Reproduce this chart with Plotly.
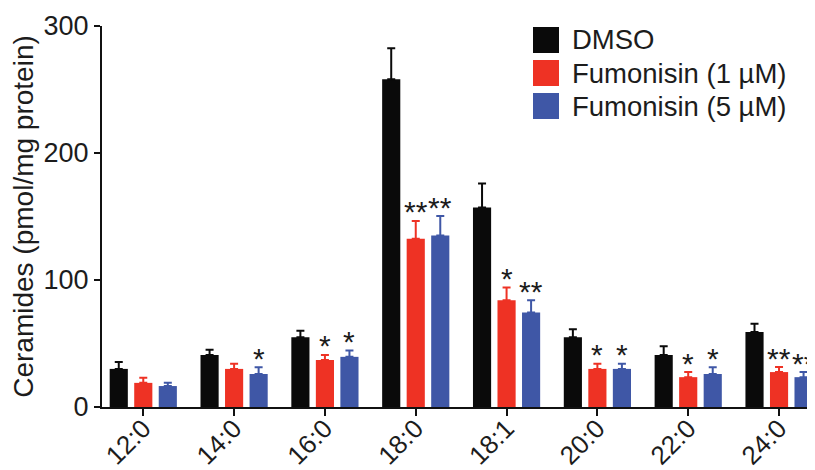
import plotly.graph_objects as go

categories = ["12:0", "14:0", "16:0", "18:0", "18:1", "20:0", "22:0", "24:0"]
series_names = ["DMSO", "Fumonisin (1 µM)", "Fumonisin (5 µM)"]
dmso = [30, 41, 55, 258, 157, 55, 41, 59]
dmso_err = [5.5, 4, 5, 24.5, 19, 6.3, 6.8, 6.5]
fum1 = [19, 30, 37, 132.5, 84, 30, 23.5, 27.5]
fum1_err = [4, 4, 4, 14, 10, 4, 4, 4]
fum5 = [16.5, 26, 39.5, 135, 74.5, 30, 26, 23.5]
fum5_err = [2.5, 5.3, 5, 15.3, 9.5, 4, 5.3, 4]
fum1_sig = ["", "", "*", "**", "*", "*", "*", "**"]
fum5_sig = ["", "*", "*", "**", "**", "*", "*", "**"]

colors = ["#0a0a0a", "#ee3224", "#3f57a6"]
FONT = "Liberation Sans, Arial, sans-serif"
TXT = "#1c1c1c"

OFF = 8  # default page body margin
W, H = 815 - OFF, 470 - OFF
ML, MR, MT, MB = 102 - OFF, 0, 26 - OFF, 63
BARGAP = 0.19
XR = [-0.4545, 7.396]

values = [dmso, fum1, fum5]
errors = [dmso_err, fum1_err, fum5_err]

fig = go.Figure()
for name, vals, errs, col in zip(series_names, values, errors, colors):
    fig.add_trace(go.Bar(
        x=categories, y=vals, name=name,
        marker=dict(color=col, line=dict(width=0)),
        error_y=dict(type="data", symmetric=False, array=errs,
                     arrayminus=[0] * len(errs), color=col,
                     thickness=2, width=4),
        showlegend=False,
    ))

# significance stars
slot = (1 - BARGAP) / 3
for k, (sig, vals, errs) in enumerate([(fum1_sig, fum1, fum1_err), (fum5_sig, fum5, fum5_err)], start=1):
    for i, s in enumerate(sig):
        if not s:
            continue
        fig.add_annotation(
            x=i + (k - 1) * slot, y=vals[i] + errs[i], xref="x", yref="y",
            text=s, showarrow=False, yanchor="middle", xanchor="center",
            yshift=9, font=dict(family=FONT, size=30, color=TXT),
        )

# custom legend (positions in screen pixels)
pw = W - ML - MR
ph = H - MT - MB
def px_x(p):
    return (p - OFF - ML) / pw
def px_y(p):
    return 1 - (p - OFF - MT) / ph

sq = 26
leg_x = 533
leg_y0 = 40
leg_dy = 33
for j, (name, col) in enumerate(zip(series_names, colors)):
    cy = leg_y0 + j * leg_dy
    fig.add_shape(type="rect", xref="paper", yref="paper",
                  x0=px_x(leg_x), x1=px_x(leg_x + sq),
                  y0=px_y(cy + sq / 2), y1=px_y(cy - sq / 2),
                  fillcolor=col, line=dict(width=0))
    fig.add_annotation(xref="paper", yref="paper", x=px_x(leg_x + sq + 11), y=px_y(cy),
                       text=name, showarrow=False, xanchor="left", yanchor="middle",
                       font=dict(family=FONT, size=27.5, color=TXT))

fig.update_layout(
    width=W, height=H,
    margin=dict(l=ML, r=MR, t=MT, b=MB),
    barmode="group", bargap=BARGAP, bargroupgap=0.26,
    plot_bgcolor="white", paper_bgcolor="white",
    font=dict(family=FONT, color=TXT),
)
fig.update_xaxes(
    type="category", range=XR, showline=True, linecolor="#111", linewidth=2,
    ticks="outside", ticklen=7, tickwidth=2, tickcolor="#111",
    tickangle=-45, tickfont=dict(family=FONT, size=26, color=TXT),
    ticklabelstandoff=-13,
    showgrid=False, zeroline=False, automargin=False,
)
fig.update_yaxes(
    range=[0, 300], tickvals=[0, 100, 200, 300],
    showline=True, linecolor="#111", linewidth=2,
    ticks="outside", ticklen=6, tickwidth=2, tickcolor="#111",
    tickfont=dict(family=FONT, size=27, color=TXT),
    title=dict(text="Ceramides (pmol/mg protein)", font=dict(family=FONT, size=28, color=TXT), standoff=4),
    showgrid=False, zeroline=False, automargin=False,
)

fig.write_html("out.html")
